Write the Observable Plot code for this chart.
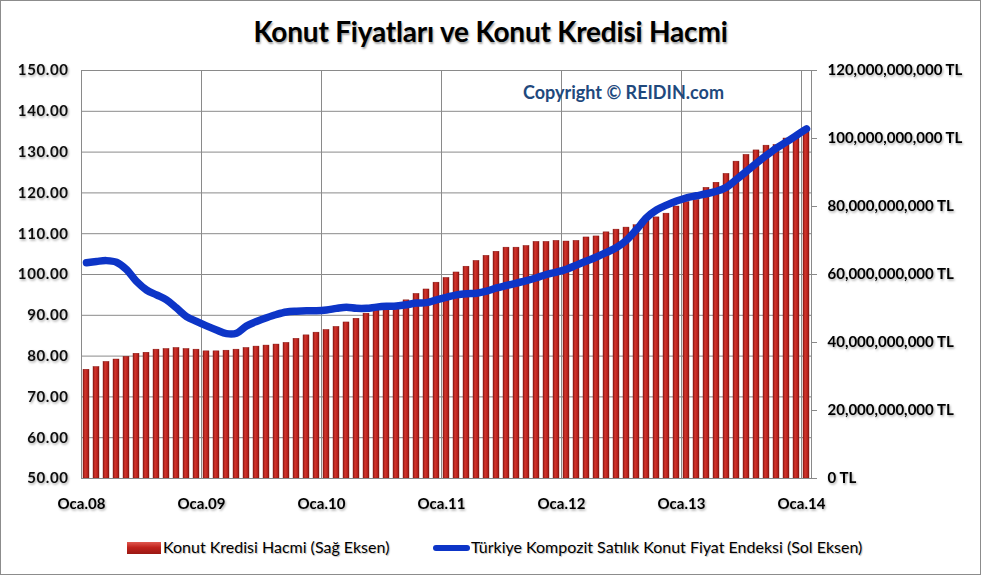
<!DOCTYPE html>
<html>
<head>
<meta charset="utf-8">
<script src="https://cdn.jsdelivr.net/npm/d3@7"></script>
<script src="https://cdn.jsdelivr.net/npm/@observablehq/plot@0.6"></script>
<style>
  html, body { margin: 0; padding: 0; background: #fff; }
  #wrap { position: relative; width: 981px; height: 575px; overflow: hidden; background: #fff; font-family: Lato, "Open Sans", sans-serif; }
  #border { position: absolute; left: 0; top: 0; width: 979px; height: 573px; border: 1px solid #8c8c8c; pointer-events: none; }
  #title { position: absolute; left: 0; width: 981px; top: 14px; text-align: center; font-size: 28px; font-weight: bold; color: #000; text-shadow: 1px 2px 2px rgba(0,0,0,0.35); letter-spacing: -0.2px; }
  #copy { position: absolute; left: 523px; top: 81px; font-size: 18px; font-weight: bold; color: #1F497D; }
  #chart { position: absolute; left: 0; top: 0; }
  .leg { position: absolute; font-size: 16px; color: #000; text-shadow: 1px 1px 1px rgba(0,0,0,0.25); white-space: nowrap; }
  .sw-bar { position: absolute; left: 127px; top: 542px; width: 34px; height: 12px; background: linear-gradient(#e0584f, #c0231d 45%, #9a1813); }
  .sw-line { position: absolute; left: 433px; top: 545px; width: 37px; height: 6px; border-radius: 3px; background: #0d35c7; }
</style>
</head>
<body>
<div id="wrap">
  <div id="chart"></div>
  <div id="title">Konut Fiyatları ve Konut Kredisi Hacmi</div>
  <div id="copy">Copyright © REIDIN.com</div>
  <div class="sw-bar"></div>
  <div class="leg" style="left:163px; top:537px;">Konut Kredisi Hacmi (Sağ Eksen)</div>
  <div class="sw-line"></div>
  <div class="leg" style="left:471px; top:537px;">Türkiye Kompozit Satılık Konut Fiyat Endeksi (Sol Eksen)</div>
  <div id="border"></div>
</div>
<script>
// Monthly, Ocak 2008 .. Ocak 2014 (73 months)
const yearLabels = ["Oca.08", "Oca.09", "Oca.10", "Oca.11", "Oca.12", "Oca.13", "Oca.14"];

// Konut Kredisi Hacmi, billion TL (right axis)
const creditBn = [
  32.0, 32.8, 34.3, 35.0, 35.8, 36.7, 37.0, 37.9, 38.1, 38.4, 38.1, 37.9,
  37.4, 37.4, 37.6, 37.9, 38.4, 38.8, 39.1, 39.4, 39.9, 41.1, 42.1, 42.9,
  43.7, 44.6, 45.9, 47.0, 48.5, 49.5, 50.2, 50.9, 52.4, 54.3, 55.6, 57.6,
  59.0, 60.6, 62.3, 64.0, 65.5, 66.7, 67.9, 67.9, 68.4, 69.6, 69.6, 69.9,
  69.7, 69.9, 70.9, 71.2, 72.4, 73.2, 73.8, 74.5, 75.8, 76.8, 77.9, 80.0,
  81.3, 81.9, 85.5, 87.0, 89.6, 93.2, 95.2, 96.5, 97.9, 98.1, 100.0, 100.5,
  102.3
];

// Türkiye Kompozit Satılık Konut Fiyat Endeksi (left axis)
const priceIndex = [
  102.9, 103.2, 103.4, 103.0, 101.2, 98.3, 96.2, 95.0, 93.8, 91.8, 89.7, 88.5,
  87.4, 86.4, 85.5, 85.6, 87.4, 88.5, 89.4, 90.2, 90.8, 91.0, 91.1, 91.1,
  91.3, 91.7, 92.0, 91.7, 91.7, 92.0, 92.2, 92.3, 92.6, 93.0, 93.1, 93.8,
  94.4, 95.0, 95.3, 95.4, 95.9, 96.7, 97.3, 97.9, 98.5, 99.2, 100.0, 100.6,
  101.3, 102.3, 103.3, 104.3, 105.4, 106.6, 108.4, 111.0, 113.9, 115.8, 117.0, 118.0,
  118.8, 119.3, 119.8, 120.4, 121.4, 123.3, 125.3, 127.3, 129.2, 131.0, 132.5, 134.1,
  135.7
];

const leftTicks = [50, 60, 70, 80, 90, 100, 110, 120, 130, 140, 150];
const rightTicksBn = [0, 20, 40, 60, 80, 100, 120];

// left axis: 50..150 ; right axis 0..120 bn over the same pixels
const bnToLeft = b => 50 + b / 1.2;
const leftToBn = v => Math.round((v - 50) * 1.2);

const data = creditBn.map((c, i) => ({ i, credit: c, price: priceIndex[i] }));
const yearIdx = yearLabels.map((_, j) => j * 12);

const grid = "#8a8a8a";

const plot = Plot.plot({
  width: 981,
  height: 575,
  marginLeft: 81,
  marginRight: 170,
  marginTop: 70,
  marginBottom: 97,
  style: { fontFamily: "Lato, 'Open Sans', sans-serif", background: "transparent", overflow: "visible" },
  x: { type: "linear", domain: [0, 73] },
  y: { domain: [50, 150] },
  marks: [
    Plot.gridY(leftTicks, { stroke: grid, strokeOpacity: 1, strokeWidth: 1 }),
    Plot.gridX(yearIdx, { stroke: grid, strokeOpacity: 1, strokeWidth: 1 }),
    Plot.rectY(data, {
      x1: d => d.i + 0.2, x2: d => d.i + 0.8,
      y1: 50, y2: d => bnToLeft(d.credit),
      fill: "url(#barGrad)", stroke: "#7e1410", strokeWidth: 0.4
    }),
    Plot.frame({ stroke: grid, strokeWidth: 1 }),
    Plot.line(data, {
      x: d => d.i + 0.5, y: "price",
      stroke: "#0d35c7", strokeWidth: 7.5, curve: "catmull-rom",
      strokeLinecap: "round", strokeLinejoin: "round"
    }),
    Plot.axisY(leftTicks, {
      anchor: "left", tickSize: 0, tickPadding: 13, label: null,
      tickFormat: d => d.toFixed(2), fontSize: 15, fontWeight: "bold", fill: "#111"
    }),
    Plot.axisY(rightTicksBn.map(bnToLeft), {
      anchor: "right", tickSize: 5, tickPadding: 11, stroke: grid, label: null,
      tickFormat: v => (leftToBn(v) * 1e9).toLocaleString("en-US") + " TL",
      fontSize: 15, fontWeight: "bold"
    }),
    Plot.axisX(yearIdx, {
      anchor: "bottom", tickSize: 0, tickPadding: 20, label: null,
      tickFormat: (d, k) => yearLabels[k], fontSize: 15, fontWeight: "bold"
    })
  ]
});

// gradient for bars + soft text shadow
const svg = d3.select(plot);
const defs = svg.insert("defs", ":first-child");
const g = defs.append("linearGradient").attr("id", "barGrad").attr("x1", 0).attr("x2", 1).attr("y1", 0).attr("y2", 0);
g.append("stop").attr("offset", "0%").attr("stop-color", "#8e1712");
g.append("stop").attr("offset", "35%").attr("stop-color", "#d2352d");
g.append("stop").attr("offset", "70%").attr("stop-color", "#be241e");
g.append("stop").attr("offset", "100%").attr("stop-color", "#851410");
const f = defs.append("filter").attr("id", "ts").attr("x", "-10%").attr("y", "-30%").attr("width", "130%").attr("height", "170%");
f.append("feDropShadow").attr("dx", 1).attr("dy", 1.5).attr("stdDeviation", 0.9).attr("flood-color", "#000").attr("flood-opacity", 0.35);
svg.selectAll("g[aria-label='y-axis tick label'], g[aria-label='x-axis tick label']").attr("filter", "url(#ts)");
svg.selectAll("g[aria-label='y-axis tick label']").filter((_, k) => k === 0).attr("letter-spacing", "0.6px");
svg.selectAll("g[aria-label='y-axis tick'] path").attr("stroke", grid);

document.getElementById("chart").appendChild(plot);
</script>
</body>
</html>
